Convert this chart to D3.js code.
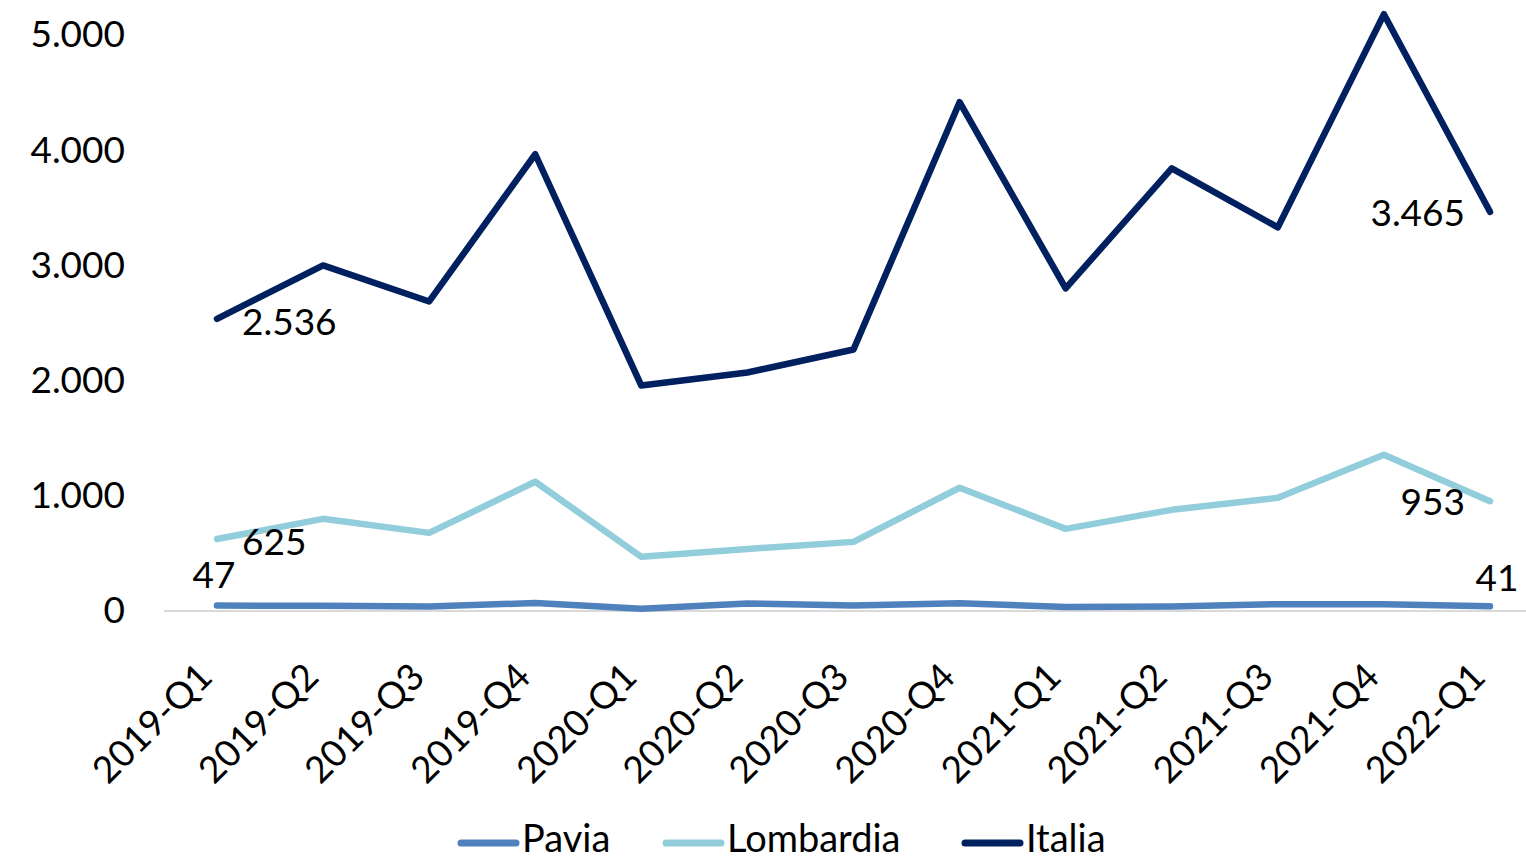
<!DOCTYPE html>
<html><head><meta charset="utf-8">
<script src="https://cdn.jsdelivr.net/npm/d3@7"></script>
<style>body{margin:0;background:#fff;}svg{display:block;font-family:Lato,"Open Sans",sans-serif;}</style>
</head><body><svg id="c" width="1526" height="860"></svg>
<script>
const categories = ["2019-Q1","2019-Q2","2019-Q3","2019-Q4","2020-Q1","2020-Q2","2020-Q3","2020-Q4","2021-Q1","2021-Q2","2021-Q3","2021-Q4","2022-Q1"];
const pavia = [47,45,40,69,20,65,48,67,35,40,59,59,41];
const lombardia = [625,800,678,1122,470,539,600,1070,713,878,983,1357,953];
const italia = [2536,3000,2687,3965,1957,2070,2270,4417,2800,3843,3330,5180,3465];
const yTicks = [0,1000,2000,3000,4000,5000];
const seriesNames = ["Pavia","Lombardia","Italia"];
const seriesColors = ["#4f81bd","#92cddc","#002060"];

const svg = d3.select("#c");
const x = d3.scalePoint().domain(categories).range([217,1490]);
const y = d3.scaleLinear().domain([0,5000]).range([611,35]);
const fmt = v => d3.format(",")(v).replace(/,/g,".");

// zero line
svg.append("line").attr("x1",164).attr("x2",1526).attr("y1",y(0)).attr("y2",y(0))
  .attr("stroke","#d9d9d9").attr("stroke-width",2);

// y axis
const yAxis = d3.axisLeft(y).tickValues(yTicks).tickFormat(fmt).tickSize(0).tickPadding(0);
const ga = svg.append("g").attr("transform","translate(125,0)").call(yAxis);
ga.select(".domain").remove();
ga.selectAll("text").attr("font-size",37).attr("fill","#000").attr("font-family","Lato");

// x axis
const xAxis = d3.axisBottom(x).tickSize(0);
const gx = svg.append("g").attr("transform","translate(0,611)").call(xAxis);
gx.select(".domain").remove();
gx.selectAll("text").attr("font-size",37).attr("fill","#000").attr("font-family","Lato")
  .attr("text-anchor","end").attr("dy",0).attr("y",0)
  .attr("transform","translate(-3,68) rotate(-45)");

const data = [pavia, lombardia, italia];
const line = d3.line().x((d,i)=>x(categories[i])).y(d=>y(d));
data.forEach((s,k)=>{
  svg.append("path").datum(s).attr("d",line).attr("fill","none")
    .attr("stroke",seriesColors[k]).attr("stroke-width",6.5)
    .attr("stroke-linejoin","round").attr("stroke-linecap","round");
});

// data labels
const lab = (v,xx,yy,anchor)=>svg.append("text").attr("x",xx).attr("y",yy)
  .attr("text-anchor",anchor).attr("font-size",37).attr("font-family","Lato").text(fmt(v));
const first = categories[0], last = categories[categories.length-1];
lab(italia[0], x(first)+25, y(italia[0])+16, "start");
lab(lombardia[0], x(first)+25, y(lombardia[0])+16, "start");
lab(pavia[0], x(first)-3, y(pavia[0])-18, "middle");
lab(italia[12], x(last)-25, y(italia[12])+14, "end");
lab(lombardia[12], x(last)-25, y(lombardia[12])+14, "end");
lab(pavia[12], x(last)+7, y(pavia[12])-15, "middle");

// legend
const legX = [461,666,965];
seriesNames.forEach((n,k)=>{
  svg.append("line").attr("x1",legX[k]).attr("x2",legX[k]+55).attr("y1",843).attr("y2",843)
    .attr("stroke",seriesColors[k]).attr("stroke-width",7).attr("stroke-linecap","round");
  svg.append("text").attr("x",legX[k]+61).attr("y",852).attr("font-size",38).attr("font-family","Lato").text(n);
});
</script></body></html>
